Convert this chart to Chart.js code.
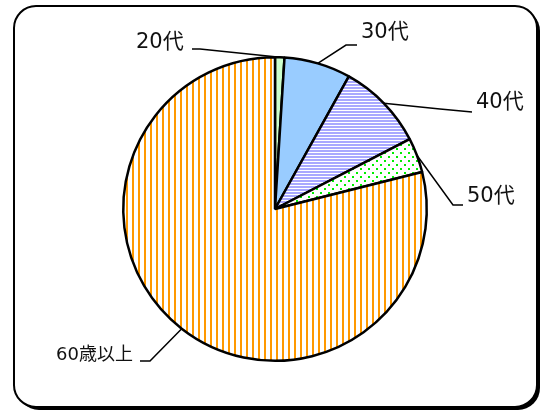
<!DOCTYPE html>
<html>
<head>
<meta charset="utf-8">
<script src="https://cdn.jsdelivr.net/npm/chart.js@4.4.0/dist/chart.umd.min.js"></script>
<style>
  html, body { margin: 0; padding: 0; background: #fff; }
  #wrap { width: 546px; height: 412px; position: relative; }
</style>
</head>
<body>
<div id="wrap"><canvas id="pieChart" width="546" height="412"></canvas></div>
<script>
const labels = ["20代", "30代", "40代", "50代", "60歳以上"];
const values = [1.0, 7.1, 9.3, 3.7, 79.0];

// label placement: elbow of leader line, end of leader line, text start
const labelLayout = [
    { elbow: [200, 49], end: [192, 49], text: [136, 43], size: 21 },
    { elbow: [346, 45], end: [357, 45], text: [361, 33], size: 21 },
    { elbow: [440, 109], end: [472, 112], text: [476, 103], size: 21 },
    { elbow: [453, 205], end: [463, 205], text: [467, 197], size: 21 },
    { elbow: [150, 361], end: [140, 361], text: [56, 355], size: 18 }
];

function makePattern(kind) {
    const c = document.createElement("canvas");
    const x = c.getContext("2d");
    if (kind === "green") {
        return "#ccffcc";
    } else if (kind === "blue") {
        return "#99ccff";
    } else if (kind === "hlines") {
        c.width = 3; c.height = 3;
        x.fillStyle = "#fff"; x.fillRect(0, 0, 3, 3);
        x.fillStyle = "#a8a8ff"; x.fillRect(0, 0, 3, 2);
    } else if (kind === "dots") {
        c.width = 8; c.height = 8;
        x.fillStyle = "#fff"; x.fillRect(0, 0, 8, 8);
        x.fillStyle = "#00ee00";
        x.fillRect(0, 0, 2, 2);
        x.fillRect(4, 4, 2, 2);
    } else if (kind === "vlines") {
        c.width = 6; c.height = 6;
        x.fillStyle = "#fff"; x.fillRect(0, 0, 6, 6);
        x.fillStyle = "#ff9900"; x.fillRect(0, 0, 2, 6);
    }
    return x.createPattern(c, "repeat");
}

function roundRect(ctx, x, y, w, h, r) {
    ctx.beginPath();
    ctx.moveTo(x + r, y);
    ctx.lineTo(x + w - r, y);
    ctx.arcTo(x + w, y, x + w, y + r, r);
    ctx.lineTo(x + w, y + h - r);
    ctx.arcTo(x + w, y + h, x + w - r, y + h, r);
    ctx.lineTo(x + r, y + h);
    ctx.arcTo(x, y + h, x, y + h - r, r);
    ctx.lineTo(x, y + r);
    ctx.arcTo(x, y, x + r, y, r);
    ctx.closePath();
}

const framePlugin = {
    id: "frame",
    beforeDraw(chart) {
        const ctx = chart.ctx;
        ctx.save();
        ctx.fillStyle = "#000";
        roundRect(ctx, 17, 9, 523, 401, 22);
        ctx.fill();
        roundRect(ctx, 14, 6, 523, 401, 22);
        ctx.fillStyle = "#fff";
        ctx.fill();
        ctx.lineWidth = 2;
        ctx.strokeStyle = "#000";
        ctx.stroke();
        ctx.restore();
    }
};

const leaderPlugin = {
    id: "leaders",
    afterDraw(chart) {
        const ctx = chart.ctx;
        const arcs = chart.getDatasetMeta(0).data;
        ctx.save();
        arcs.forEach((arc, i) => {
            const lay = labelLayout[i];
            const mid = (arc.startAngle + arc.endAngle) / 2;
            const px = arc.x + Math.cos(mid) * arc.outerRadius;
            const py = arc.y + Math.sin(mid) * arc.outerRadius;
            ctx.beginPath();
            ctx.moveTo(px, py);
            ctx.lineTo(lay.elbow[0], lay.elbow[1]);
            ctx.lineTo(lay.end[0], lay.end[1]);
            ctx.strokeStyle = "#000";
            ctx.lineWidth = 1.5;
            ctx.stroke();

            ctx.fillStyle = "#111";
            ctx.font = lay.size + "px 'DejaVu Sans', 'Noto Sans CJK JP', sans-serif";
            ctx.textAlign = "left";
            ctx.textBaseline = "middle";
            ctx.fillText(labels[i], lay.text[0], lay.text[1]);
        });
        ctx.restore();
    }
};

new Chart(document.getElementById("pieChart"), {
    type: "pie",
    data: {
        labels: labels,
        datasets: [{
            data: values,
            backgroundColor: [
                makePattern("green"),
                makePattern("blue"),
                makePattern("hlines"),
                makePattern("dots"),
                makePattern("vlines")
            ],
            borderColor: "#000",
            borderWidth: 2.5,
            borderAlign: "center",
            hoverOffset: 0
        }]
    },
    options: {
        responsive: false,
        animation: false,
        layout: {
            padding: { left: 122, right: 118, top: 56, bottom: 50 }
        },
        plugins: {
            legend: { display: false },
            tooltip: { enabled: false }
        }
    },
    plugins: [framePlugin, leaderPlugin]
});
</script>
</body>
</html>
